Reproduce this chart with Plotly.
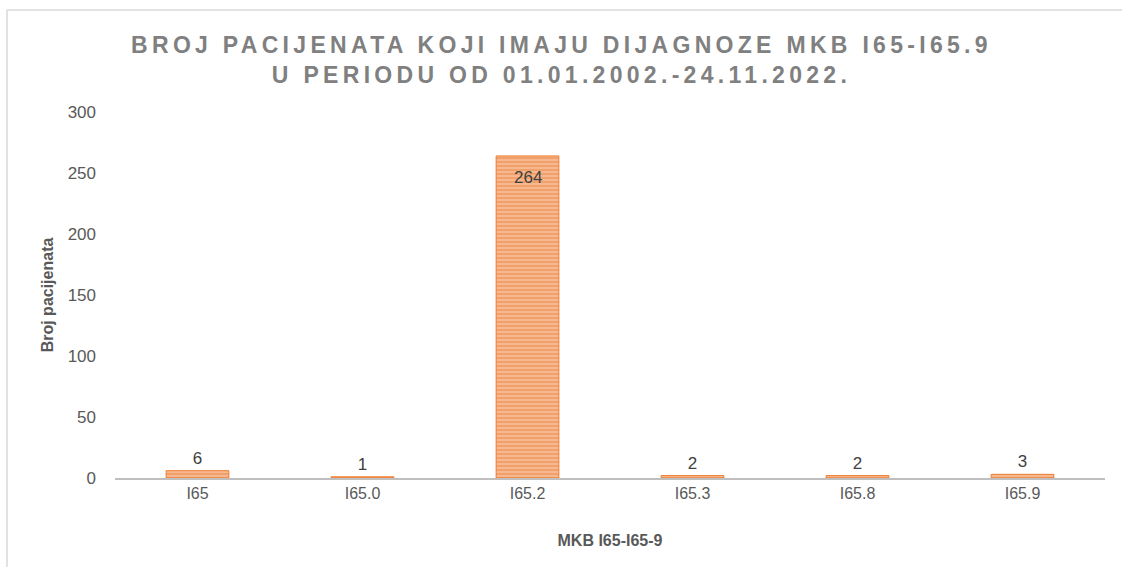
import plotly.graph_objects as go

categories = ["I65", "I65.0", "I65.2", "I65.3", "I65.8", "I65.9"]
values = [6, 1, 264, 2, 2, 3]
label_inside = [False, False, True, False, False, False]
y_ticks = [0, 50, 100, 150, 200, 250, 300]

title_text = "BROJ PACIJENATA KOJI IMAJU DIJAGNOZE MKB I65-I65.9<br>U PERIODU OD 01.01.2002.-24.11.2022."
x_title = "MKB I65-I65-9"
y_title = "Broj pacijenata"

W, H = 1123, 567
L, R, T, B = 115, 18, 112, 89
pw, ph = W - L - R, H - T - B

def px(x):
    return (x - L) / pw

def py(y):
    return (H - B - y) / ph

FONT = "Liberation Sans, Arial, sans-serif"
LBL = dict(family=FONT, size=17, color="#404040")

fig = go.Figure()
fig.add_trace(go.Bar(
    x=categories,
    y=values,
    text=["" if ins else str(v) for v, ins in zip(values, label_inside)],
    textposition="outside",
    textfont=LBL,
    outsidetextfont=LBL,
    cliponaxis=False,
    marker=dict(
        color="#F4B183",
        line=dict(color="#ED7D31", width=1),
        pattern=dict(shape="-", fgcolor="#ED7D31", bgcolor="#F7C2A0", size=4, solidity=0.65, fillmode="overlay"),
    ),
    width=0.38,
))

annotations = [
    dict(x=c, y=v, xref="x", yref="y", text=str(v), showarrow=False,
         yanchor="top", yshift=-10, font=LBL)
    for c, v, ins in zip(categories, values, label_inside) if ins
]

fig.update_layout(
    width=W, height=H,
    margin=dict(l=L, r=R, t=T, b=B),
    paper_bgcolor="white",
    plot_bgcolor="white",
    showlegend=False,
    annotations=annotations,
    title=dict(
        text=title_text,
        x=0.5, xanchor="center",
        y=1 - 53 / H, yanchor="middle",
        font=dict(family=FONT, size=23, color="#808080", weight="bold"),
    ),
    xaxis=dict(
        showgrid=False,
        showline=True, linecolor="#BFBFBF", linewidth=2,
        ticks="", tickfont=dict(family=FONT, size=16, color="#595959"),
        title=dict(text=x_title, font=dict(family=FONT, size=16, color="#595959", weight="bold"), standoff=34),
    ),
    yaxis=dict(
        range=[0, 300],
        tickvals=y_ticks,
        showgrid=False, zeroline=False, showline=False,
        ticks="", ticklabelstandoff=18,
        tickfont=dict(family=FONT, size=17, color="#595959"),
        title=dict(text=y_title, font=dict(family=FONT, size=16, color="#595959", weight="bold"), standoff=10),
    ),
    shapes=[
        dict(type="line", xref="paper", yref="paper", x0=px(7), x1=px(7), y0=py(10), y1=py(567), line=dict(color="#D9D9D9", width=1.5)),
        dict(type="line", xref="paper", yref="paper", x0=px(7), x1=px(1122), y0=py(10), y1=py(10), line=dict(color="#D9D9D9", width=1.5)),
    ],
)

post = """
document.body.style.margin = '0';
var t = document.querySelectorAll('.gtitle, .gtitle tspan');
t.forEach(function(e){ e.style.letterSpacing = '4.3px'; });
"""
fig.write_html("out.html", post_script=post, config={"displayModeBar": False})
